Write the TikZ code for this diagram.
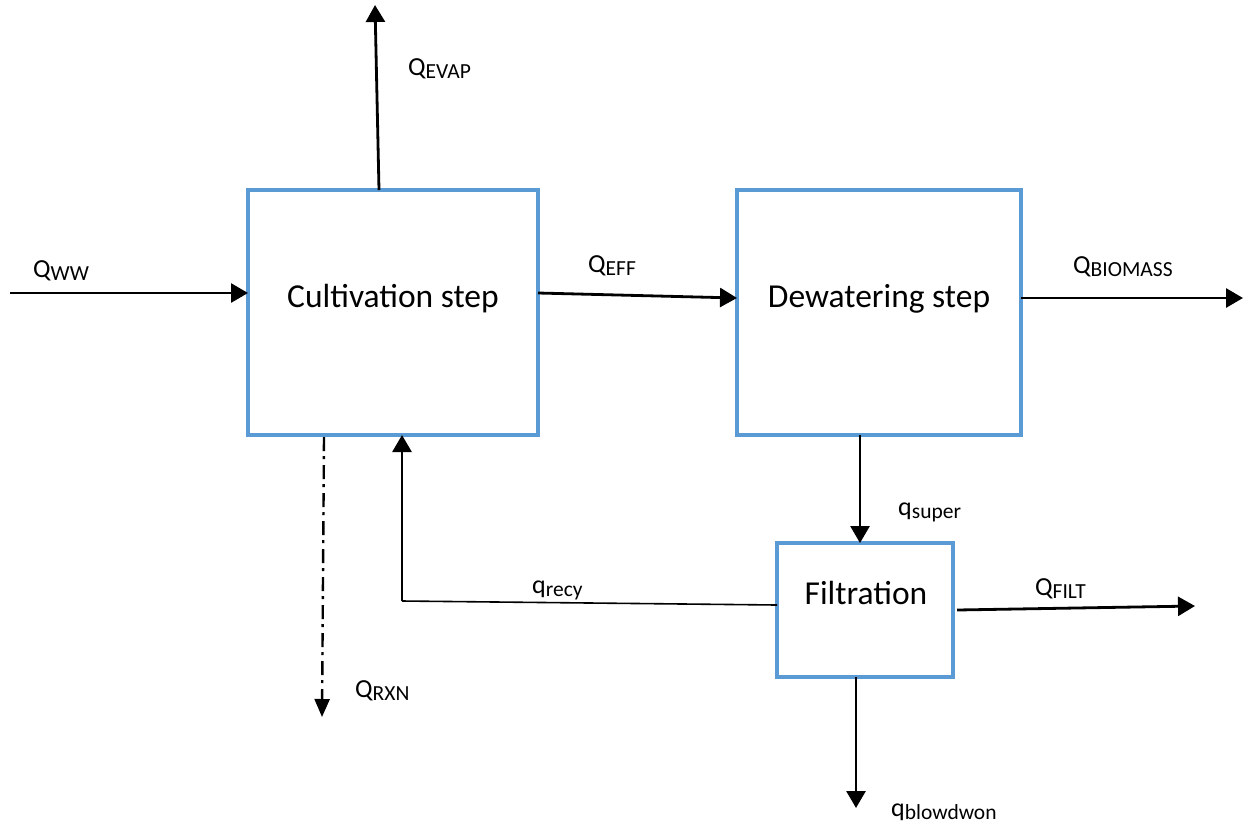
\documentclass[tikz,border=0pt]{standalone}
\usepackage{fontspec}
\setmainfont{Carlito}
\usetikzlibrary{arrows.meta,calc}
\definecolor{boxblue}{RGB}{91,155,213}
% flow label: main symbol plus lowered, smaller subscript
\newcommand{\flowlbl}[2]{{\fontsize{26}{30}\selectfont #1}\raisebox{-3.5pt}{\fontsize{21.5}{24}\selectfont #2}}
\begin{document}
\begin{tikzpicture}[x=1pt,y=-1pt,
  unit/.style={draw=boxblue,line width=3.5pt,fill=white,outer sep=0pt,inner sep=0pt},
  unittext/.style={anchor=base,inner sep=0pt,font=\fontsize{33.5}{38}\selectfont},
  flow/.style={line width=2.8pt,-{Triangle[length=17pt,width=19pt]}},
  thinflow/.style={line width=1.6pt},
  rxnflow/.style={line width=2.4pt,dash pattern=on 14pt off 5pt on 3pt off 6pt,
                  -{Triangle[length=18pt,width=15pt]}},
  lbl/.style={anchor=base west,inner sep=0pt}]
\useasboundingbox (0,0) rectangle (1244,828);

% process units
\node[unit,minimum width=290pt,minimum height=245pt] (cult) at (393,312.5) {};
\node[unit,minimum width=284pt,minimum height=245pt] (dew) at (879,312.5) {};
\node[unit,minimum width=176pt,minimum height=134pt] (filt) at (865,610) {};

\node[unittext] (culttxt) at (393,307) {Cultivation step};
\node[unittext] (dewtxt) at (879,307) {Dewatering step};
\node[unittext] (filttxt) at (866,604) {Filtration};

% free ends of the streams
\coordinate (wwin) at (10,293);
\coordinate (evapout) at (375,5);
\coordinate (bioout) at (1243,298);
\coordinate (filtout) at (1195,606);
\coordinate (blowout) at (856,808);
\coordinate (rxnout) at (322,717);
\coordinate (recycorner) at (402,601);

% streams
\draw[flow] (wwin) -- ($(cult.west)+(0,-19.5)$);
\draw[flow] ($(cult.north)+(-14,0)$) -- (evapout);
\draw[flow] ($(cult.east)+(0,-19.5)$) -- ($(dew.west)+(0,-14.5)$);
\draw[flow] ($(dew.east)+(0,-14.5)$) -- (bioout);
\draw[flow] ($(dew.south)+(-19,0)$) -- ($(filt.north)+(-5,0)$);
\draw[flow] ($(filt.east)+(4,0)$) -- (filtout);
\draw[flow] ($(filt.south)+(-9,0)$) -- (blowout);
\draw[thinflow] ($(filt.west)+(0,-5)$) -- (recycorner);
\draw[flow] (recycorner) -- ($(cult.south)+(9,0)$);
\draw[rxnflow] ($(cult.south)+(-69,2)$) -- (rxnout);

% stream labels
\node[lbl] (lww) at (33,277) {\flowlbl{Q}{WW}};
\node[lbl] (levap) at (408,75) {\flowlbl{Q}{EVAP}};
\node[lbl] (leff) at (588,272) {\flowlbl{Q}{EFF}};
\node[lbl] (lbio) at (1073,273) {\flowlbl{Q}{BIOMASS}};
\node[lbl] (lsuper) at (898,515) {\flowlbl{q}{super}};
\node[lbl] (lfilt) at (1035,595) {\flowlbl{Q}{FILT}};
\node[lbl] (lrecy) at (532,593) {\flowlbl{q}{recy}};
\node[lbl] (lrxn) at (355,697) {\flowlbl{Q}{RXN}};
\node[lbl] (lblow) at (891,816) {\flowlbl{q}{blowdwon}};
\end{tikzpicture}
\end{document}
